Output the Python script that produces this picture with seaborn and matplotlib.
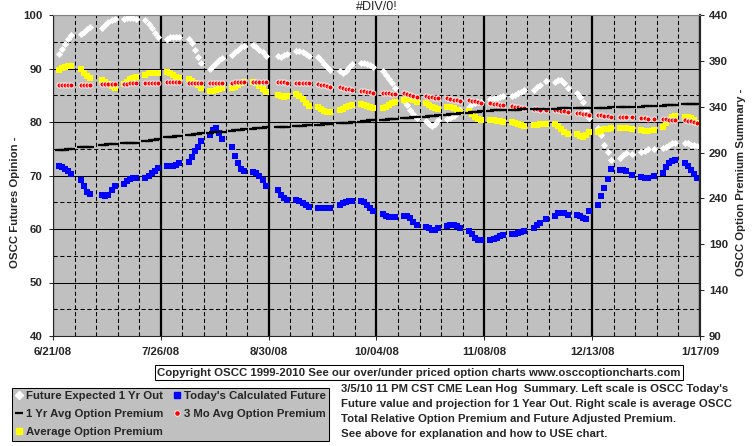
import pandas as pd
import matplotlib
matplotlib.use("Agg")
import matplotlib.pyplot as plt
from matplotlib.lines import Line2D
import seaborn as sns

sns.set_style("ticks")
plt.rcParams["font.family"] = ["Liberation Sans", "DejaVu Sans"]
plt.rcParams["font.weight"] = "bold"
plt.rcParams["font.size"] = 8.2

# trading days: weekdays minus exchange holidays
holidays = ["2008-07-04", "2008-09-01", "2008-11-27", "2008-12-25", "2009-01-01"]
days = pd.bdate_range("2008-06-23", "2009-01-16")
days = days[~days.isin(pd.to_datetime(holidays))]

# left scale (one line per week)
future_1yr = [
    92.7, 93.6, 94.5, 95.5, 96.3,
    96.5, 96.9, 97.3, 97.7,
    97.6, 98.1, 98.6, 99.0, 99.2,
    99.2, 99.4, 99.5, 99.5, 99.3,
    99.1, 98.3, 97.5, 96.7, 95.9,
    95.6, 95.8, 95.8, 95.9, 95.8,
    95.6, 94.7, 93.5, 92.2, 91.1,
    90.0, 90.5, 91.0, 91.5, 92.0,
    92.5, 93.0, 93.5, 94.0, 94.2,
    94.4, 94.1, 93.5, 93.0, 92.3,
    92.4, 92.2, 92.5, 92.8,
    93.2, 93.2, 93.0, 92.7, 92.3,
    92.2, 91.5, 90.9, 90.3, 89.8,
    89.6, 89.2, 89.6, 90.3, 90.9,
    91.1, 91.0, 90.8, 90.6, 90.3,
    89.6, 88.8, 88.0, 87.2, 86.3,
    84.0, 83.2, 82.3, 81.5, 80.8,
    80.1, 79.6, 79.3, 79.7, 80.3,
    80.5, 80.8, 81.2, 81.6, 82.2,
    82.8, 83.3, 83.5, 83.7, 83.8,
    84.3, 84.4, 84.5, 84.6, 84.8,
    84.8, 85.1, 85.4, 85.7, 86.0,
    86.0, 86.5, 87.0, 87.6,
    87.5, 87.9, 87.9, 87.2, 86.3,
    85.4, 84.6, 83.8, 82.3, 80.7,
    78.8, 77.6, 75.7, 74.3, 72.9,
    73.2, 73.9, 74.2, 74.1,
    74.3, 74.6, 74.9, 75.0,
    75.1, 75.4, 75.7, 76.0, 76.0,
    76.0, 76.0, 75.7, 75.7, 75.5,
]
today_future = [
    71.7, 71.6, 71.2, 70.8, 70.3,
    69.1, 68.0, 67.0, 66.6,
    66.4, 66.2, 66.4, 67.2, 68.0,
    68.5, 68.9, 69.3, 69.5, 69.5,
    69.5, 69.9, 70.4, 70.8, 71.4,
    71.7, 71.7, 71.8, 72.0, 72.3,
    72.6, 73.5, 74.5, 75.4, 76.4,
    77.6, 78.5, 78.8, 78.0, 76.8,
    75.3, 73.7, 72.4, 71.2, 70.8,
    70.6, 70.5, 70.0, 69.1, 68.1,
    67.3, 66.4, 65.8, 65.5,
    65.5, 65.2, 64.9, 64.5, 64.2,
    64.0, 63.9, 63.9, 64.0, 64.0,
    64.5, 64.8, 65.0, 65.2, 65.2,
    65.2, 65.0, 64.5, 63.9, 63.3,
    62.8, 62.5, 62.3, 62.2, 62.2,
    62.5, 62.5, 62.0, 61.4, 60.8,
    60.4, 60.1, 59.9, 59.9, 60.2,
    60.6, 60.8, 60.8, 60.5, 60.2,
    59.7, 59.1, 58.3, 57.9, 57.9,
    57.9, 58.1, 58.3, 58.6, 58.9,
    59.1, 59.1, 59.2, 59.4, 59.7,
    60.2, 60.8, 61.2, 61.9,
    62.5, 62.9, 63.0, 62.9, 62.7,
    62.7, 62.4, 62.1, 61.8, 63.4,
    64.5, 66.1, 67.6, 69.4, 71.2,
    71.1, 71.0, 70.9, 70.1,
    69.7, 69.5, 69.5, 70.0,
    70.4, 71.6, 72.3, 72.7, 72.9,
    72.3, 71.7, 71.1, 70.3, 69.6,
]

# right scale
yr1_premium = [
    292.8, 293.0, 293.2, 293.4, 293.6,
    295.7, 295.9, 296.2, 296.4,
    298.3, 298.6, 298.9, 299.2, 299.4,
    300.1, 300.3, 300.5, 300.6, 300.8,
    302.6, 303.0, 303.5, 304.0, 304.4,
    306.7, 307.0, 307.4, 307.8, 308.1,
    309.2, 309.7, 310.1, 310.6, 311.0,
    311.7, 312.0, 312.2, 312.5, 312.8,
    313.9, 314.3, 314.6, 315.0, 315.4,
    316.1, 316.5, 316.8, 317.2, 317.6,
    317.6, 317.8, 318.0, 318.2,
    319.0, 319.3, 319.5, 319.8, 320.1,
    320.1, 320.4, 320.7, 320.9, 321.2,
    321.9, 322.2, 322.4, 322.7, 323.0,
    323.8, 324.2, 324.6, 325.0, 325.4,
    325.6, 325.9, 326.1, 326.4, 326.6,
    327.4, 327.8, 328.1, 328.5, 328.8,
    329.1, 329.5, 329.9, 330.2, 330.6,
    331.3, 331.7, 332.1, 332.4, 332.8,
    333.5, 333.9, 334.3, 334.6, 335.0,
    335.7, 335.9, 336.0, 336.2, 336.4,
    336.4, 336.6, 336.8, 337.0, 337.2,
    337.2, 337.4, 337.7, 337.9,
    337.9, 338.0, 338.1, 338.2, 338.3,
    338.3, 338.4, 338.4, 338.5, 338.6,
    338.6, 338.8, 338.9, 339.1, 339.3,
    339.3, 339.4, 339.6, 339.7,
    340.0, 340.3, 340.5, 340.8,
    341.1, 341.4, 341.7, 341.9, 342.2,
    342.6, 342.8, 342.9, 343.1, 343.3,
]
mo3_premium = [
    363.5, 363.7, 363.7, 363.9, 364.0,
    364.0, 364.0, 364.0, 364.0,
    364.5, 364.5, 364.8, 364.8, 365.0,
    365.0, 365.2, 365.5, 365.5, 365.8,
    366.0, 366.2, 366.2, 366.4, 366.4,
    366.6, 366.6, 366.8, 366.8, 367.0,
    366.4, 366.2, 366.2, 366.0, 366.0,
    366.2, 366.4, 366.2, 366.4, 366.2,
    366.4, 366.6, 366.6, 366.8, 366.8,
    367.0, 367.3, 367.3, 367.3, 367.0,
    366.8, 366.6, 366.6, 366.4,
    366.4, 366.2, 366.0, 366.0, 365.5,
    364.8, 364.0, 363.2, 362.5, 361.8,
    361.2, 360.3, 359.5, 358.8, 358.2,
    357.5, 357.0, 356.4, 355.8, 355.3,
    355.3, 355.0, 354.6, 354.2, 353.9,
    354.6, 353.5, 352.5, 351.7, 350.9,
    351.7, 351.0, 350.3, 349.7, 349.2,
    349.2, 348.5, 347.8, 347.2, 346.6,
    347.3, 346.5, 345.7, 345.0, 344.4,
    343.7, 343.2, 342.8, 342.3, 341.9,
    340.8, 340.2, 339.5, 338.9, 338.3,
    337.8, 337.3, 336.9, 336.4,
    336.4, 335.9, 335.5, 335.0, 334.6,
    333.5, 332.9, 332.2, 331.6, 331.0,
    331.0, 330.5, 330.0, 329.6, 329.1,
    329.1, 328.9, 328.7, 328.5,
    328.0, 327.5, 326.9, 326.3,
    326.3, 326.1, 325.9, 325.7, 325.5,
    325.5, 324.8, 324.0, 323.3, 322.6,
]
avg_premium = [
    380.0, 381.9, 383.6, 384.4, 384.4,
    380.8, 377.1, 373.5, 371.0,
    369.1, 367.3, 364.8, 362.6, 360.7,
    364.8, 367.3, 369.9, 371.6, 372.7,
    374.6, 376.4, 377.1, 377.1, 376.4,
    378.2, 376.4, 374.6, 372.7, 371.0,
    369.9, 368.4, 366.2, 363.7, 360.1,
    357.5, 357.5, 358.5, 359.5, 360.5,
    360.1, 361.2, 363.7, 365.5, 367.3,
    367.3, 365.5, 362.6, 359.0, 356.4,
    352.8, 351.7, 350.9, 351.7,
    353.9, 351.7, 348.1, 344.4, 340.8,
    339.4, 337.2, 335.7, 334.6, 334.6,
    336.4, 337.2, 339.4, 340.8, 341.9,
    342.6, 341.9, 340.8, 339.4, 338.3,
    338.3, 340.0, 341.9, 343.7, 345.5,
    347.3, 349.2, 348.1, 347.3, 345.5,
    344.4, 341.9, 340.0, 338.3, 337.2,
    340.0, 339.4, 338.3, 336.4, 334.6,
    335.7, 332.1, 329.1, 326.3, 325.5,
    325.5, 325.5, 324.8, 324.4, 323.7,
    323.7, 322.6, 321.2, 320.1, 319.0,
    320.1, 320.1, 320.8, 321.2,
    320.8, 319.0, 315.4, 312.8, 310.3,
    310.3, 308.1, 306.7, 309.2, 312.8,
    312.8, 313.9, 315.4, 316.1, 316.5,
    316.5, 316.5, 316.5, 315.4,
    314.6, 313.5, 313.5, 314.6,
    318.2, 321.9, 325.5, 328.5, 329.9,
    328.5, 328.5, 327.4, 325.5, 321.9,
]

x_labels = ["6/21/08", "7/26/08", "8/30/08", "10/04/08", "11/08/08", "12/13/08", "1/17/09"]
major_dates = pd.date_range("2008-06-21", "2009-01-17", freq="35D")
minor_dates = pd.date_range("2008-06-21", "2009-01-17", freq="7D")

note_lines = [
    "3/5/10 11 PM CST CME Lean Hog  Summary. Left scale is OSCC Today's",
    "Future value and projection for 1 Year Out. Right scale is average OSCC",
    "Total Relative Option Premium and Future Adjusted Premium.",
    "See above for explanation and how to USE chart.",
]

fig = plt.figure(figsize=(7.55, 4.46), dpi=100)
ax = fig.add_axes([53 / 755, 1 - 336 / 446, 647 / 755, 321 / 446])
ax.set_facecolor("#C0C0C0")
ax2 = ax.twinx()

# left scale series
sns.scatterplot(x=days, y=future_1yr, ax=ax, marker="D", s=13, color="white",
                linewidth=0, zorder=3)
sns.scatterplot(x=days, y=today_future, ax=ax, marker="s", s=19, color="#0000FF",
                linewidth=0, zorder=3)

# right scale series
sns.lineplot(x=days, y=yr1_premium, ax=ax2, color="black", linestyle="",
             marker="_", markersize=5.5, markeredgewidth=1.6,
             markeredgecolor="black")
sns.scatterplot(x=days, y=avg_premium, ax=ax2, marker="s", s=20, color="#FFFF00",
                linewidth=0)
sns.scatterplot(x=days, y=mo3_premium, ax=ax2, marker="o", s=13, color="#FF0000",
                edgecolor="white", linewidth=0.6)

ax.set_xlim(pd.Timestamp("2008-06-21"), pd.Timestamp("2009-01-17"))
ax.set_ylim(40, 100)
ax2.set_ylim(90, 440)
ax.set_xticks(major_dates)
ax.set_xticklabels(x_labels)
ax.set_xticks(minor_dates, minor=True)
ax.set_yticks(range(40, 101, 10))
ax.set_yticks(range(45, 100, 10), minor=True)
ax2.set_yticks(range(90, 441, 50))
ax.set_xlabel("")
ax.set_ylabel("")
ax2.set_ylabel("")

ax.set_axisbelow(True)
ax.grid(which="major", axis="y", color="black", lw=0.75, ls="-")
ax.grid(which="major", axis="x", color="black", lw=1.6, ls="-")
ax.grid(which="minor", axis="both", color="black", lw=0.75, ls=(0, (4, 2.5)))
ax2.grid(False)

ax.tick_params(which="minor", length=0)
ax.tick_params(axis="y", which="major", length=3, width=0.75, pad=4.5, labelsize=8.2)
ax.tick_params(axis="x", which="major", length=3, width=0.75, pad=5, labelsize=8.2)
ax2.tick_params(axis="y", length=3, width=0.75, pad=3.5, labelsize=8.2)

for a in (ax, ax2):
    a.spines["top"].set_color("#808080")
    a.spines["top"].set_linewidth(0.75)
    a.spines["left"].set_linewidth(0.75)
    a.spines["bottom"].set_linewidth(0.75)
    a.spines["right"].set_linewidth(1.5)

fig.text(377 / 755, 1 - 7.5 / 446, "#DIV/0!", ha="center", va="center",
         fontsize=9, fontweight="normal")
fig.text(15 / 755, 1 - 202 / 446, "OSCC Futures Opinion -", rotation=90,
         ha="center", va="center")
fig.text(741 / 755, 1 - 182 / 446, "OSCC Option Premium Summary -", rotation=90,
         ha="center", va="center")

fig.text(419 / 755, 1 - 372.5 / 446,
         "Copyright OSCC 1999-2010 See our over/under priced option charts www.osccoptioncharts.com",
         ha="center", va="center",
         bbox=dict(boxstyle="square,pad=0.22", fc="white", ec="black", lw=0.75))

for i, line in enumerate(note_lines):
    fig.text(341 / 755, 1 - (389 + 15 * i) / 446, line, ha="left", va="center")

handles = [
    Line2D([], [], ls="", marker="D", ms=4, color="white"),
    Line2D([], [], ls="", marker="_", ms=6, mew=1.6, color="black"),
    Line2D([], [], ls="", marker="s", ms=5, color="#FFFF00"),
    Line2D([], [], ls="", marker="s", ms=5, color="#0000FF"),
    Line2D([], [], ls="", marker="o", ms=4, mfc="#FF0000", mec="white", mew=0.6),
]
labels = ["Future Expected 1 Yr Out", "1 Yr Avg Option Premium", "Average Option Premium",
          "Today's Calculated Future", "3 Mo Avg Option Premium"]
leg = fig.legend(handles, labels, loc="upper left", bbox_to_anchor=(12 / 755, 1 - 388 / 446),
                 ncol=2, frameon=True, fancybox=False, edgecolor="black",
                 facecolor="#C0C0C0", framealpha=1, borderpad=0.3, handlelength=0.6,
                 handletextpad=0.3, columnspacing=0.9, labelspacing=0.7,
                 borderaxespad=0, fontsize=8.2)
leg.get_frame().set_linewidth(0.75)

fig.savefig("out.png", dpi=100)
